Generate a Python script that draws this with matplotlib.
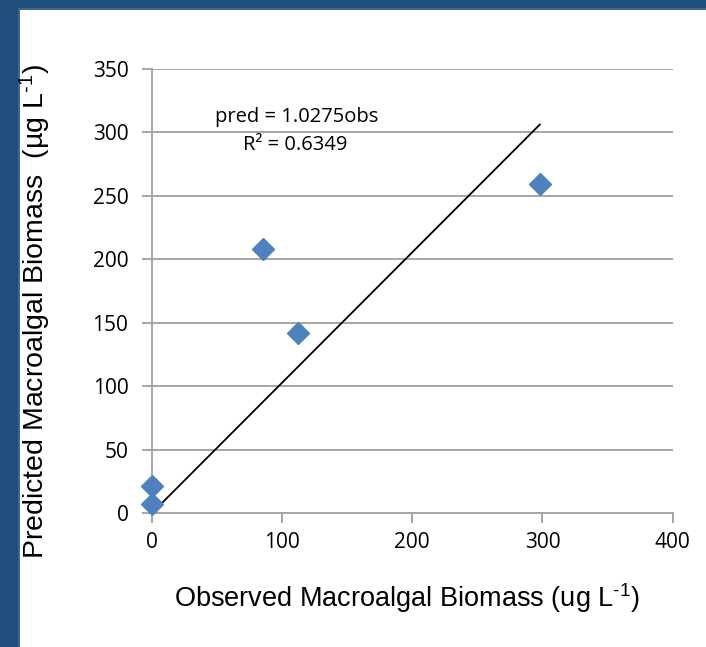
import numpy as np
import matplotlib.pyplot as plt
from matplotlib.patches import Rectangle

plt.rcParams['mathtext.fontset'] = 'custom'
plt.rcParams['mathtext.rm'] = 'Liberation Sans'
plt.rcParams['mathtext.it'] = 'Liberation Sans:italic'
plt.rcParams['mathtext.bf'] = 'Liberation Sans:bold'

# Observed vs predicted macroalgal biomass (ug/L)
observed = [0, 0, 85, 112, 298]
predicted = [7, 21, 208, 142, 259]
slope = 1.0275
r_squared = 0.6349

x_ticks = [0, 100, 200, 300, 400]
y_ticks = [0, 50, 100, 150, 200, 250, 300, 350]

grid_color = '#a6a6a6'
point_color = '#4f81bd'
frame_color = '#1f4e7c'

fig = plt.figure(figsize=(7.06, 6.47), dpi=100)
fig.patch.set_facecolor('white')

# dark blue frame on the left and top edges
fig.patches.append(Rectangle((0, 0), 18 / 706, 1, transform=fig.transFigure,
                             facecolor=frame_color, edgecolor='none', zorder=0))
fig.patches.append(Rectangle((0, 1 - 8 / 647), 1, 8 / 647, transform=fig.transFigure,
                             facecolor=frame_color, edgecolor='none', zorder=0))
fig.patches.append(Rectangle((18 / 706, 0), 2 / 706, 1 - 8 / 647, transform=fig.transFigure,
                             facecolor='#3f6594', edgecolor='none', zorder=0))
fig.patches.append(Rectangle((18 / 706, 1 - 10 / 647), 1, 2 / 647, transform=fig.transFigure,
                             facecolor='#3f6594', edgecolor='none', zorder=0))

ax = fig.add_axes([152 / 706, 1 - 513 / 647, (672.5 - 152) / 706, (513 - 69) / 647])
ax.set_xlim(0, 400)
ax.set_ylim(0, 350)
ax.set_xticks(x_ticks)
ax.set_yticks(y_ticks)

ax.grid(axis='y', color=grid_color, linewidth=1.4)
ax.set_axisbelow(True)
for side in ['top', 'right']:
    ax.spines[side].set_visible(False)
for side in ['left', 'bottom']:
    ax.spines[side].set_color(grid_color)
    ax.spines[side].set_linewidth(1.4)
ax.tick_params(axis='both', color=grid_color, width=1.4, length=7, labelsize=15)
ax.tick_params(axis='x', pad=7)
ax.tick_params(axis='y', pad=10)
for lab in ax.get_xticklabels() + ax.get_yticklabels():
    lab.set_fontfamily('Open Sans')

# trend line through origin
line_x = np.array([0, max(observed)])
ax.plot(line_x, slope * line_x, color='black', linewidth=1.3, zorder=2)

ax.plot(observed, predicted, linestyle='none', marker='D', markersize=11,
        color=point_color, markeredgecolor=point_color, zorder=3, clip_on=False)

ax.text(111, 312, f'pred = {slope}obs', fontsize=14.5, family='Open Sans', ha='center', va='center')
ax.text(110, 290, f'R² = {r_squared}', fontsize=14.5, family='Open Sans', ha='center', va='center')

fig.text(407 / 706, 1 - 598 / 647, 'Observed Macroalgal Biomass (ug L$^{\\text{-1}}$)',
         fontsize=19.5, family='Liberation Sans', ha='center', va='center')
fig.text(35 / 706, 1 - 312 / 647, 'Predicted Macroalgal Biomass  (µg L$^{\\text{-1}}$)',
         fontsize=20.5, family='Liberation Sans', ha='center', va='center', rotation=90)

plt.savefig('out.png', dpi=100)
